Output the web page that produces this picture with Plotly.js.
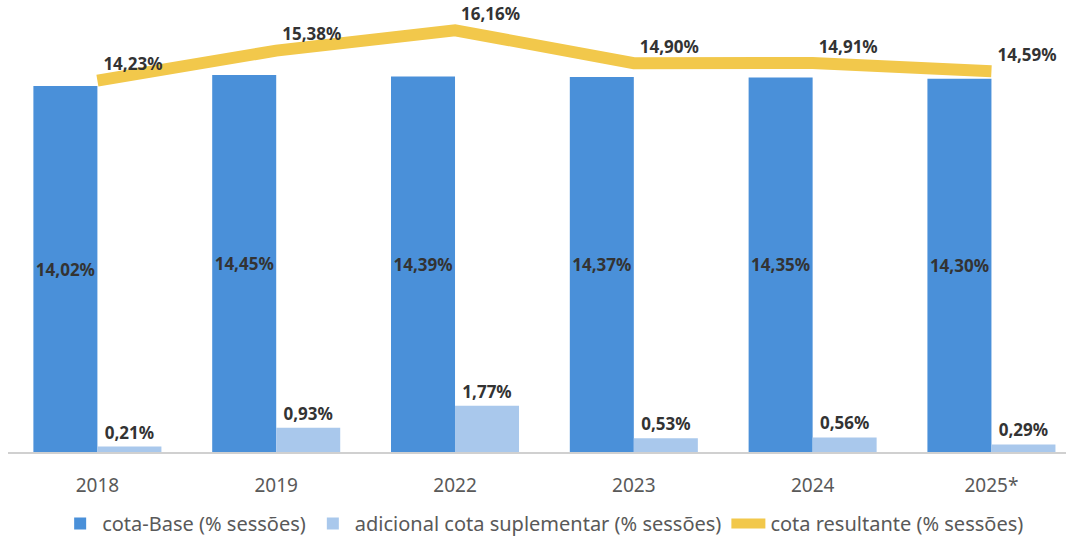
<!DOCTYPE html>
<html>
<head>
<meta charset="utf-8">
<script src="https://cdn.plot.ly/plotly-3.0.1.min.js"></script>
<style>
  body { margin: 0; background: #fff; overflow: hidden; }
  #chart { width: 1066px; height: 543px; }
</style>
</head>
<body>
<div id="chart"></div>
<script>
var years = ['2018', '2019', '2022', '2023', '2024', '2025*'];
var cotaBase = [14.02, 14.45, 14.39, 14.37, 14.35, 14.30];
var adicional = [0.21, 0.93, 1.77, 0.53, 0.56, 0.29];
var resultante = [14.23, 15.38, 16.16, 14.90, 14.91, 14.59];

var labelFont = {family: 'Noto Sans, sans-serif', size: 17, color: '#333333', weight: 'bold'};

var traceBase = {
    x: years,
    y: cotaBase,
    type: 'bar',
    name: 'cota-Base (% sessões)',
    marker: {color: '#4a90d9'},
    texttemplate: '%{y:.2f}%',
    textposition: 'inside',
    insidetextanchor: 'middle',
    textangle: 0,
    constraintext: 'none',
    textfont: labelFont,
    hoverinfo: 'skip'
};

var traceAdicional = {
    x: years,
    y: adicional,
    type: 'bar',
    name: 'adicional cota suplementar (% sessões)',
    marker: {color: '#a9c8ec'},
    texttemplate: '%{y:.2f}%',
    textposition: 'outside',
    textangle: 0,
    constraintext: 'none',
    cliponaxis: false,
    textfont: labelFont,
    hoverinfo: 'skip'
};

var traceResultante = {
    x: years,
    y: resultante,
    type: 'scatter',
    mode: 'lines+markers+text',
    name: 'cota resultante (% sessões)',
    line: {color: '#f2c84b', width: 12},
    marker: {size: 8, color: 'rgba(0,0,0,0)'},
    texttemplate: '%{y:.2f}%',
    textposition: 'top right',
    cliponaxis: false,
    textfont: labelFont,
    hoverinfo: 'skip'
};

var layout = {
    width: 1066,
    height: 543,
    margin: {l: 8, r: 0, t: 0, b: 91},
    paper_bgcolor: '#ffffff',
    plot_bgcolor: '#ffffff',
    separators: ',.',
    barmode: 'group',
    bargap: 0.284,
    bargroupgap: 0,
    font: {family: 'Noto Sans, sans-serif', color: '#595959'},
    xaxis: {
        type: 'category',
        range: [-0.5, 5.417],
        showline: true,
        linecolor: '#d0d0d0',
        linewidth: 1.5,
        ticks: 'outside',
        ticklen: 16,
        tickcolor: 'rgba(0,0,0,0)',
        tickfont: {size: 19, color: '#595959'},
        showgrid: false
    },
    yaxis: {
        range: [0, 17.32],
        visible: false,
        showgrid: false,
        zeroline: false
    },
    showlegend: true,
    legend: {
        orientation: 'h',
        x: 0.51,
        xanchor: 'center',
        xref: 'container',
        y: 0.0,
        yanchor: 'bottom',
        yref: 'container',
        font: {size: 20, color: '#595959'},
        itemwidth: 34,
        traceorder: 'normal'
    }
};

Plotly.newPlot('chart', [traceBase, traceAdicional, traceResultante], layout,
    {displayModeBar: false, staticPlot: true});
</script>
</body>
</html>
